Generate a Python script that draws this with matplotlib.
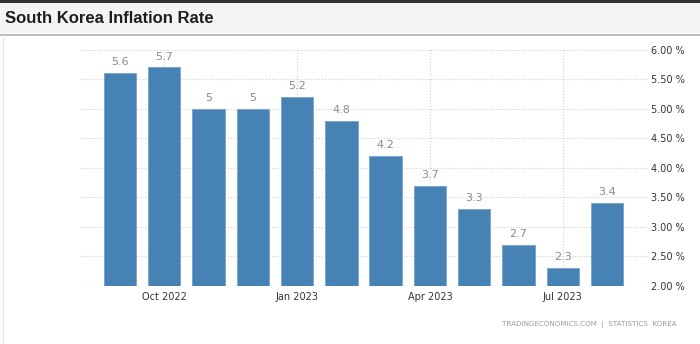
import matplotlib.pyplot as plt
from matplotlib.patches import Rectangle
from matplotlib.lines import Line2D

# data (Sep 2022 - Aug 2023)
months = ['Sep 2022', 'Oct 2022', 'Nov 2022', 'Dec 2022', 'Jan 2023', 'Feb 2023',
          'Mar 2023', 'Apr 2023', 'May 2023', 'Jun 2023', 'Jul 2023', 'Aug 2023']
inflation = [5.6, 5.7, 5.0, 5.0, 5.2, 4.8, 4.2, 3.7, 3.3, 2.7, 2.3, 3.4]
value_labels = ['5.6', '5.7', '5', '5', '5.2', '4.8', '4.2', '3.7', '3.3', '2.7', '2.3', '3.4']
tick_idx = [1, 4, 7, 10]
y_ticks = [2.0, 2.5, 3.0, 3.5, 4.0, 4.5, 5.0, 5.5, 6.0]

W, H = 700, 344
fig = plt.figure(figsize=(W / 100, H / 100), dpi=100)
fig.patch.set_facecolor('white')

# header band
fig.add_artist(Rectangle((0, (H - 33) / H), 1, 33 / H, transform=fig.transFigure,
                         facecolor='#f4f4f4', edgecolor='none', zorder=0))
fig.add_artist(Rectangle((0, (H - 3) / H), 1, 3 / H, transform=fig.transFigure,
                         facecolor='#333333', edgecolor='none', zorder=1))
fig.add_artist(Line2D([0, 1], [(H - 34.5) / H] * 2, transform=fig.transFigure,
                      color='#bbbbbb', lw=1.5, zorder=1))
fig.add_artist(Line2D([3 / W] * 2, [0, (H - 35) / H], transform=fig.transFigure,
                      color='#e4e4e4', lw=0.8))
fig.text(5 / W, (H - 18.5) / H, 'South Korea Inflation Rate', fontsize=12,
         fontweight='bold', color='#1e1e1e', family='Liberation Sans',
         ha='left', va='center')

ax = fig.add_axes([80 / W, (H - 286) / H, (647 - 80) / W, (286 - 48) / H])
x = list(range(len(inflation)))
ax.bar(x, [v - 2 for v in inflation], bottom=2, width=0.73, color='#4682b4',
       edgecolor='#7aa3c9', linewidth=0.6, zorder=3)
for xi, v, lab in zip(x, inflation, value_labels):
    ax.text(xi, v + 0.1, lab, ha='center', va='bottom', fontsize=8,
            color='#8a8a8a', zorder=4)

ax.set_xlim(-0.9, 11.9)
ax.set_ylim(2, 6.03)
ax.set_yticks(y_ticks)
ax.set_yticklabels(['%.2f %%' % t for t in y_ticks])
ax.set_xticks(tick_idx)
ax.set_xticklabels([months[i] for i in tick_idx])
ax.yaxis.tick_right()
ax.tick_params(axis='y', length=0, pad=3, labelsize=7, labelcolor='#333333')
ax.tick_params(axis='x', length=0, pad=4, labelsize=7, labelcolor='#333333')
ax.grid(True, color='#d0d0d0', linestyle=':', linewidth=0.8, zorder=0)
ax.set_axisbelow(True)
for s in ax.spines.values():
    s.set_visible(False)

fig.text(677 / W, (H - 324) / H, 'TRADINGECONOMICS.COM  |  STATISTICS  KOREA',
         fontsize=5.1, color='#999999', ha='right', va='center')

fig.savefig('out.png', dpi=100)
